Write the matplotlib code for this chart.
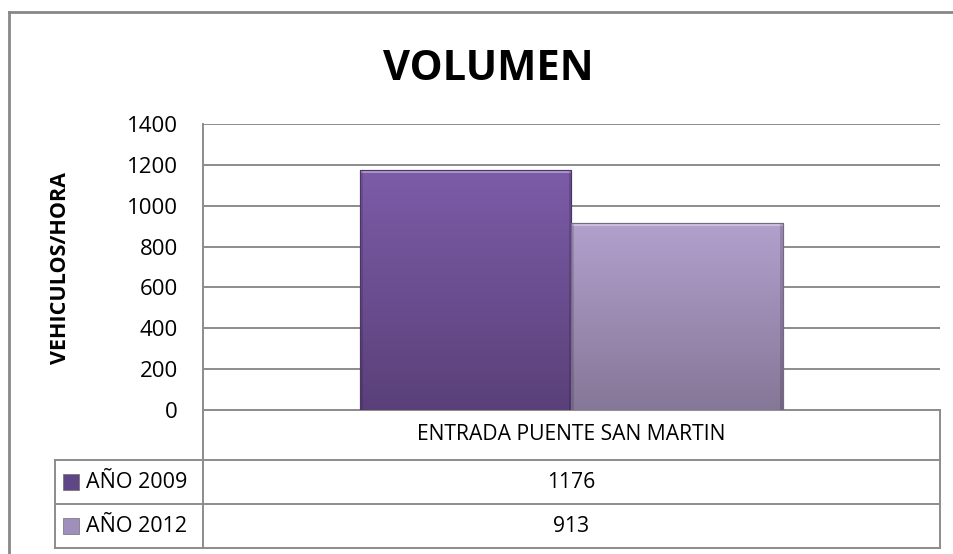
import matplotlib
matplotlib.use("Agg")
import matplotlib.pyplot as plt
import numpy as np
from matplotlib.lines import Line2D
from matplotlib.patches import Rectangle
from matplotlib.colors import LinearSegmentedColormap

# ---- data ----
categories = ["ENTRADA PUENTE SAN MARTIN"]
series_names = ["AÑO 2009", "AÑO 2012"]
values_2009 = [1176]
values_2012 = [913]
yticks = [0, 200, 400, 600, 800, 1000, 1200, 1400]
title = "VOLUMEN"
ylabel = "VEHICULOS/HORA"

plt.rcParams['font.family'] = ['Open Sans', 'DejaVu Sans']

W, H = 954, 554
fig = plt.figure(figsize=(W / 100, H / 100), dpi=100)

def fx(px):
    return px / W

def fy(py):
    return 1 - py / H

ax_l, ax_r, ax_t, ax_b = 203, 940, 124, 410
ax = fig.add_axes([fx(ax_l), fy(ax_b), fx(ax_r) - fx(ax_l), fy(ax_t) - fy(ax_b)])

grid_col = "#8c8c8c"
bw = 0.287
x = np.arange(len(categories))
series = [values_2009, values_2012]
offsets = [-bw / 2, bw / 2]
tops = ["#7c5ca8", "#b2a0cd"]
bots = ["#5a4079", "#857797"]
edges = ["#4a3566", "#756889"]

for vals, off, ct, cb, ec in zip(series, offsets, tops, bots, edges):
    bars = ax.bar(x + off, vals, width=bw, color=cb, edgecolor=ec, linewidth=0.8, zorder=3)
    cmap = LinearSegmentedColormap.from_list("g", [cb, ct])
    for p in bars.patches:
        x0, w, h = p.get_x(), p.get_width(), p.get_height()
        grad = np.linspace(0, 1, 256).reshape(-1, 1)
        im = ax.imshow(grad, extent=[x0, x0 + w, 0, h], origin="lower", aspect="auto",
                       cmap=cmap, zorder=3.5)
        im.set_clip_path(p)
        hl = h * 0.012
        ax.add_patch(Rectangle((x0, h - hl), w, hl, facecolor="white", alpha=0.35,
                               edgecolor="none", zorder=4))
        sw = w * 0.012
        ax.add_patch(Rectangle((x0, 0), sw, h, facecolor="black", alpha=0.12,
                               edgecolor="none", zorder=4))
        ax.add_patch(Rectangle((x0 + w - sw, 0), sw, h, facecolor="black", alpha=0.15,
                               edgecolor="none", zorder=4))
        ax.add_patch(Rectangle((x0, 0), w, h, facecolor="none", edgecolor=ec,
                               linewidth=0.8, zorder=4.5))

ax.set_xlim(-0.5, len(categories) - 0.5)
ax.set_ylim(0, 1400)
ax.set_yticks(yticks)
ax.set_yticklabels([str(v) for v in yticks], fontsize=16)
ax.set_xticks([])
ax.yaxis.grid(True, color=grid_col, linewidth=1.4, zorder=0)
ax.set_axisbelow(True)
for s in ["top", "right"]:
    ax.spines[s].set_visible(False)
for s in ["left", "bottom"]:
    ax.spines[s].set_color(grid_col)
    ax.spines[s].set_linewidth(1.4)
ax.tick_params(axis="y", length=0, pad=18, labelcolor="black")
ax.patch.set_alpha(0)

# title & ylabel
fig.text(fx(488), fy(80), title, ha="center", va="baseline", fontsize=30,
         fontweight="bold")
fig.text(fx(61), fy(268), ylabel, ha="center", va="center", rotation=90,
         fontsize=15.5, fontweight="bold")

# ---- data table ----
def hline(y, x0, x1):
    fig.add_artist(Line2D([fx(x0), fx(x1)], [fy(y), fy(y)], color=grid_col, lw=1.4))

def vline(xp, y0, y1):
    fig.add_artist(Line2D([fx(xp), fx(xp)], [fy(y0), fy(y1)], color=grid_col, lw=1.4))

leg_l = 55
rows = [410, 460, 504, 548]
hline(rows[1], leg_l, ax_r)
hline(rows[2], leg_l, ax_r)
hline(rows[3], leg_l, ax_r)
vline(ax_l, rows[0], rows[3])
vline(ax_r, rows[0], rows[3])
vline(leg_l, rows[1], rows[3])

cx = (ax_l + ax_r) / 2
fig.text(fx(cx), fy(435), categories[0], ha="center", va="center", fontsize=15.2)
leg_cols = ["#5f4687", "#a08fbd"]
for i, (name, vals, col) in enumerate(zip(series_names, series, leg_cols)):
    yc = (rows[i + 1] + rows[i + 2]) / 2
    fig.add_artist(Rectangle((fx(63), fy(yc + 8)), fx(16), 16 / H, facecolor=col,
                             edgecolor="#6e6e6e", linewidth=0.5))
    fig.text(fx(86), fy(yc), name, ha="left", va="center", fontsize=15.5)
    fig.text(fx(cx), fy(yc), str(vals[0]), ha="center", va="center", fontsize=15.2)

# outer chart border
fig.add_artist(Line2D([fx(9), fx(9)], [fy(12), 0], color="#888888", lw=2))
fig.add_artist(Line2D([fx(9), 1], [fy(12), fy(12)], color="#888888", lw=2))

fig.savefig("out.png", dpi=100, facecolor="white")
